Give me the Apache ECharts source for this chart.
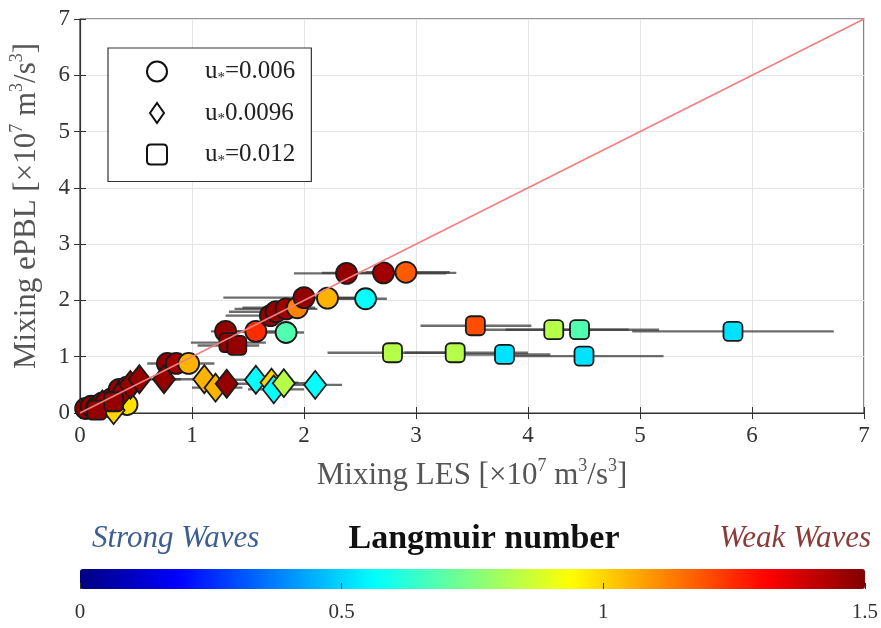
<!DOCTYPE html>
<html><head><meta charset="utf-8">
<script src="https://cdn.jsdelivr.net/npm/echarts@6/dist/echarts.min.js"></script>
<style>html,body{margin:0;padding:0;background:#fff}#c{width:881px;height:628px}</style>
</head><body><div id="c"></div><script>
// ---- data: [x (LES), y (ePBL), Langmuir number, xErrLow, xErrHigh, yErrLow, yErrHigh]
var circleData = [
  [0.05,0.08,1.47],[0.10,0.12,1.47],[0.15,0.10,1.47],[0.20,0.18,1.47],[0.25,0.12,1.45],
  [0.28,0.25,1.47],[0.35,0.42,1.47],[0.42,0.46,1.45],[0.42,0.15,0.98],
  [0.78,0.88,1.47,0.60,1.00],[0.86,0.88,1.45,0.70,1.05],[0.97,0.88,1.05,0.80,1.20],
  [1.30,1.45,1.47,1.17,1.50],[1.57,1.45,1.25,1.20,1.80],[1.84,1.43,0.68,1.60,2.00],
  [1.70,1.73,1.47,1.30,1.95],[1.75,1.80,1.47,1.33,2.00],[1.84,1.85,1.45,1.38,2.12],
  [1.94,1.87,1.12,1.45,2.10],
  [2.00,2.05,1.47,1.28,2.60],[2.21,2.04,1.05,1.95,2.50],[2.55,2.03,0.57,2.30,2.74],
  [2.38,2.48,1.47,1.91,3.27],[2.71,2.49,1.45,2.16,3.36],[2.91,2.50,1.18,2.55,3.30]
];
var diamondData = [
  [0.20,0.15,1.47],[0.30,0.05,1.00],[0.35,0.30,1.47],[0.45,0.50,1.47],[0.53,0.60,1.47],
  [0.75,0.60,1.47,0.60,0.90],
  [1.11,0.60,1.05,0.80,1.30],[1.21,0.45,1.05,1.00,1.45],[1.31,0.52,1.47,1.10,1.60],
  [1.57,0.59,0.57,1.30,1.90],[1.71,0.54,1.00,1.50,1.95],[1.73,0.42,0.57,1.50,2.00],
  [1.82,0.53,0.83,1.60,2.05],[2.10,0.50,0.57,1.85,2.34]
];
var squareData = [
  [0.15,0.05,1.47],[0.30,0.20,1.47],
  [1.33,1.25,1.47,0.99,1.66],[1.40,1.20,1.47,1.05,1.60],
  [2.79,1.07,0.83,2.21,3.40],[3.35,1.07,0.83,2.90,4.00],[3.79,1.04,0.52,3.30,4.20],[4.50,1.01,0.52,3.80,5.21],
  [3.53,1.55,1.20,3.04,4.03,1.43,1.68],[4.23,1.48,0.83,3.60,4.90,1.36,1.62],
  [4.46,1.48,0.68,3.80,5.17,1.36,1.62],[5.83,1.45,0.52,4.93,6.73,1.33,1.57]
];
var oneToOne = [[0,0],[7,7]];
var axisMin = 0, axisMax = 7, axisStep = 1;
var cbMin = 0, cbMax = 1.5, cbStep = 0.5;
var seriesNames = ['u*=0.006','u*0.0096','u*=0.012'];
var jet = ['#000080','#0000FF','#0080FF','#00FFFF','#80FF80','#FFFF00','#FF8000','#FF0000','#800000'];

var serif = 'Liberation Serif';
var errRows = circleData.concat(diamondData, squareData).filter(function(r){return r.length > 3;});

function errRender(params, api){
  var x = api.value(0), y = api.value(1), xlo = api.value(3), xhi = api.value(4);
  var ylo = api.value(5), yhi = api.value(6);
  var st = {stroke:'rgba(60,60,60,0.75)', lineWidth:2.4};
  var ch = [];
  var a = api.coord([xlo,y]), b = api.coord([xhi,y]);
  ch.push({type:'line', shape:{x1:a[0],y1:a[1],x2:b[0],y2:b[1]}, style:st});
  if (ylo != null && yhi != null && !isNaN(ylo) && !isNaN(yhi)) {
    var c = api.coord([x,ylo]), d = api.coord([x,yhi]);
    ch.push({type:'line', shape:{x1:c[0],y1:c[1],x2:d[0],y2:d[1]}, style:st});
  }
  return {type:'group', children:ch};
}
var supRich = {
  sup:{fontSize:18, fontFamily:serif, color:'#555', verticalAlign:'top', lineHeight:38}
};
var mk = {borderColor:'#1a1a1a', borderWidth:1.8, opacity:1};
var chart = echarts.init(document.getElementById('c'));
chart.setOption({
  animation:false,
  backgroundColor:'#fff',
  grid:[
    {left:80, right:17, top:19, bottom:215, show:true, borderColor:'#333', borderWidth:1.2},
    {left:80, right:16, top:569, height:20, show:false}
  ],
  xAxis:[
    {gridIndex:0, type:'value', min:axisMin, max:axisMax, interval:axisStep,
     axisLine:{show:true, lineStyle:{color:'#333', width:1.2}},
     axisTick:{inside:true, length:6, lineStyle:{color:'#333'}},
     splitLine:{show:true, lineStyle:{color:'#e4e4e4', width:1}},
     axisLabel:{fontFamily:serif, fontSize:23, color:'#333', margin:11},
     name:'Mixing LES [×10{sup|7} m{sup|3}/s{sup|3}]', nameLocation:'middle', nameGap:44,
     nameTextStyle:{fontFamily:serif, fontSize:31, color:'#555', lineHeight:38, rich:supRich}},
    {gridIndex:0, type:'value', position:'top', min:axisMin, max:axisMax, interval:axisStep,
     axisLine:{show:false}, axisTick:{inside:true, length:6, lineStyle:{color:'#333'}},
     splitLine:{show:false}, axisLabel:{show:false}},
    {gridIndex:1, type:'value', min:cbMin, max:cbMax, interval:cbStep, z:10,
     axisLine:{show:false}, axisTick:{inside:true, length:6, lineStyle:{color:'#333'}},
     splitLine:{show:false},
     axisLabel:{fontFamily:serif, fontSize:21, color:'#333', margin:13}}
  ],
  yAxis:[
    {gridIndex:0, type:'value', min:axisMin, max:axisMax, interval:axisStep,
     axisLine:{show:true, lineStyle:{color:'#333', width:1.2}},
     axisTick:{inside:true, length:6, lineStyle:{color:'#333'}},
     splitLine:{show:true, lineStyle:{color:'#e4e4e4', width:1}},
     axisLabel:{fontFamily:serif, fontSize:23, color:'#333', margin:10},
     name:'Mixing ePBL [×10{sup|7} m{sup|3}/s{sup|3}]', nameLocation:'middle', nameGap:34, nameRotate:90,
     nameTextStyle:{fontFamily:serif, fontSize:31, color:'#555', lineHeight:38, rich:supRich, padding:[0,0,0,20]}},
    {gridIndex:0, type:'value', position:'right', min:axisMin, max:axisMax, interval:axisStep,
     axisLine:{show:false}, axisTick:{inside:true, length:6, lineStyle:{color:'#333'}},
     splitLine:{show:false}, axisLabel:{show:false}},
    {gridIndex:1, type:'value', show:false, min:0, max:1}
  ],
  visualMap:{
    type:'continuous', min:cbMin, max:cbMax, dimension:2, seriesIndex:[1,2,3],
    inRange:{color:jet}, orient:'horizontal', left:80, top:569,
    itemWidth:20, itemHeight:785, calculable:false, hoverLink:false, padding:0,
    text:null, showLabel:false
  },
  legend:{
    orient:'vertical', left:108, top:48, selectedMode:false,
    padding:[11,16,13,38], itemGap:15, itemWidth:20, itemHeight:20,
    borderColor:'#333', borderWidth:1.2, backgroundColor:'#fff',
    formatter:function(n){ return n.replace('*','{s|*}'); },
    textStyle:{fontFamily:serif, fontSize:25, color:'#222', padding:[0,0,0,33],
      rich:{s:{fontSize:15, fontFamily:serif, color:'#222', verticalAlign:'bottom', lineHeight:28}}},
    data:[
      {name:seriesNames[0], icon:'circle', itemStyle:{color:'#fff', borderColor:'#111', borderWidth:2}},
      {name:seriesNames[1], icon:'path://M7,0 L14,10 L7,20 L0,10 Z', itemStyle:{color:'#fff', borderColor:'#111', borderWidth:2}},
      {name:seriesNames[2], icon:'path://M3,0 L13,0 Q16,0 16,3 L16,13 Q16,16 13,16 L3,16 Q0,16 0,13 L0,3 Q0,0 3,0 Z', itemStyle:{color:'#fff', borderColor:'#111', borderWidth:2}}
    ]
  },
  graphic:[
    {type:'text', x:92, y:539, style:{text:'Strong Waves', font:'italic 31px "Liberation Serif"', fill:'#3d5d93', textAlign:'left', textVerticalAlign:'middle'}},
    {type:'text', x:484, y:539, style:{text:'Langmuir number', font:'bold 34px "Liberation Serif"', fill:'#111', textAlign:'center', textVerticalAlign:'middle'}},
    {type:'text', x:871, y:539, style:{text:'Weak Waves', font:'italic 31px "Liberation Serif"', fill:'#8b3a3a', textAlign:'right', textVerticalAlign:'middle'}}
  ],
  series:[
    {type:'custom', name:'err', xAxisIndex:0, yAxisIndex:0, renderItem:errRender, data:errRows, z:2,
     encode:{x:0, y:1}, silent:true},
    {type:'scatter', name:seriesNames[0], symbol:'circle', symbolSize:21, data:circleData, z:3, itemStyle:mk},
    {type:'scatter', name:seriesNames[1], symbol:'diamond', symbolSize:[22,28], data:diamondData, z:3, itemStyle:mk},
    {type:'scatter', name:seriesNames[2], symbol:'roundRect', symbolSize:19, data:squareData, z:3, itemStyle:mk},
    {type:'line', name:'1:1', data:oneToOne, symbol:'none', z:5, silent:true,
     lineStyle:{color:'#f08080', width:1.6}},
    {type:'scatter', xAxisIndex:2, yAxisIndex:2, data:[]}
  ]
});
</script></body></html>
